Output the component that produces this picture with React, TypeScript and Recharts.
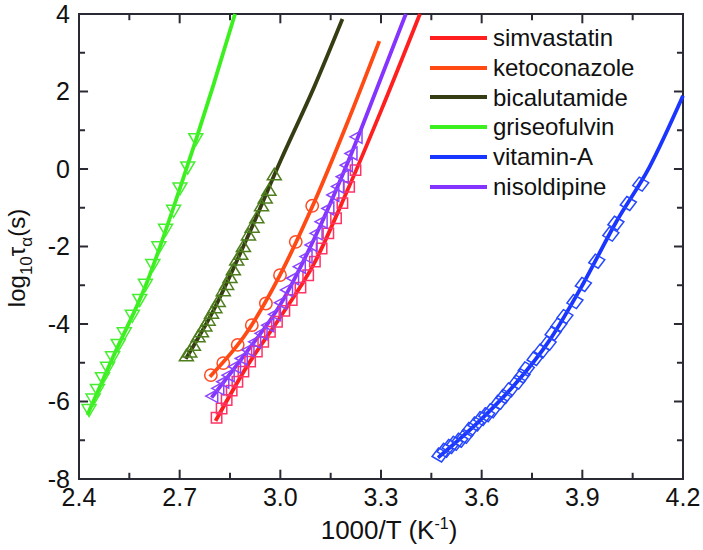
import React from 'react';
import { ComposedChart, Line, Scatter, XAxis, YAxis, Legend, Label, ReferenceArea, ReferenceLine } from 'recharts';

const FONT = '"Liberation Sans", Arial, Helvetica, sans-serif';
const INK = '#2a2a35';

// ---------- axes ----------
const xDomain: [number, number] = [2.4, 4.2];
const yDomain: [number, number] = [-8, 4];
const xTicks = [2.4, 2.55, 2.7, 2.85, 3.0, 3.15, 3.3, 3.45, 3.6, 3.75, 3.9, 4.05, 4.2];
const xTickLabels = ['2.4', '', '2.7', '', '3.0', '', '3.3', '', '3.6', '', '3.9', '', '4.2'];
const yTicks = [-8, -7, -6, -5, -4, -3, -2, -1, 0, 1, 2, 3, 4];
const yTickLabels = ['-8', '', '-6', '', '-4', '', '-2', '', '0', '', '2', '', '4'];
// inward tick lengths, in axis units (major, minor)
const xTickLen = [0.24, 0.16];
const yTickLen = [0.027, 0.018];

// ---------- series meta ----------
const seriesNames = ['simvastatin', 'ketoconazole', 'bicalutamide', 'griseofulvin', 'vitamin-A', 'nisoldipine'];
const lineColors = ['#FF1F1F', '#FF4A14', '#363D12', '#3CF020', '#1A35FF', '#8533FF'];
const markerColors = ['#FF3366', '#FF4A22', '#4E7D1E', '#46EE30', '#2546FF', '#8A44FF'];

// ---------- simvastatin (squares) ----------
const simvX = [2.810, 2.825, 2.840, 2.855, 2.872, 2.890, 2.910, 2.930, 2.949, 2.969, 2.990, 3.012, 3.034, 3.060, 3.083, 3.103, 3.123, 3.143, 3.166, 3.185, 3.205, 3.224];
const simvY = [-6.42, -6.18, -5.96, -5.72, -5.49, -5.23, -4.97, -4.71, -4.46, -4.20, -3.94, -3.66, -3.38, -3.06, -2.74, -2.39, -2.05, -1.66, -1.27, -0.88, -0.46, -0.03];
const simvFitX = [2.807, 2.9, 3.0, 3.1, 3.2, 3.3, 3.416];
const simvFitY = [-6.5, -5.1, -3.82, -2.45, -0.55, 1.5, 4.0];

// ---------- ketoconazole (circles) ----------
const ketoX = [2.793, 2.830, 2.873, 2.915, 2.957, 2.999, 3.046, 3.095];
const ketoY = [-5.32, -5.01, -4.54, -4.03, -3.47, -2.74, -1.88, -0.95];
const ketoFitX = [2.79, 2.9, 3.0, 3.1, 3.2, 3.295];
const ketoFitY = [-5.36, -4.22, -2.72, -0.88, 1.2, 3.3];

// ---------- bicalutamide (up triangles) ----------
const bicaX = [2.720, 2.730, 2.741, 2.755, 2.765, 2.775, 2.785, 2.795, 2.805, 2.815, 2.830, 2.840, 2.850, 2.860, 2.870, 2.882, 2.890, 2.905, 2.916, 2.930, 2.944, 2.955, 2.966, 2.982];
const bicaY = [-4.82, -4.72, -4.55, -4.33, -4.20, -4.05, -3.90, -3.72, -3.58, -3.42, -3.14, -2.98, -2.80, -2.60, -2.35, -2.20, -2.00, -1.70, -1.50, -1.26, -0.95, -0.75, -0.55, -0.15];
const bicaFitX = [2.718, 2.8, 2.9, 3.0, 3.1, 3.185];
const bicaFitY = [-4.9, -3.66, -1.8, 0.2, 2.1, 3.87];

// ---------- griseofulvin (down triangles) ----------
const grisX = [2.430, 2.442, 2.455, 2.470, 2.485, 2.500, 2.517, 2.535, 2.559, 2.581, 2.598, 2.620, 2.638, 2.658, 2.682, 2.701, 2.724, 2.748];
const grisY = [-6.22, -5.95, -5.70, -5.40, -5.13, -4.86, -4.54, -4.24, -3.79, -3.38, -2.99, -2.48, -2.02, -1.57, -1.08, -0.50, 0.04, 0.77];
const grisFitX = [2.425, 2.5, 2.6, 2.7, 2.8, 2.865];
const grisFitY = [-6.35, -4.88, -2.98, -0.52, 2.15, 4.0];

// ---------- vitamin-A (diamonds) ----------
const vitaX = [3.476, 3.491, 3.506, 3.520, 3.535, 3.550, 3.566, 3.583, 3.600, 3.615, 3.630, 3.652, 3.667, 3.684, 3.706, 3.720, 3.733, 3.759, 3.778, 3.798, 3.813, 3.830, 3.848, 3.878, 3.903, 3.943, 3.985, 4.000, 4.037, 4.074];
const vitaY = [-7.38, -7.26, -7.16, -7.08, -7.00, -6.90, -6.72, -6.58, -6.44, -6.34, -6.24, -6.02, -5.87, -5.70, -5.50, -5.34, -5.16, -4.89, -4.70, -4.50, -4.24, -4.03, -3.81, -3.42, -2.98, -2.38, -1.68, -1.40, -0.89, -0.39];
const vitaFitX = [3.47, 3.6, 3.7, 3.8, 3.9, 4.0, 4.1, 4.2];
const vitaFitY = [-7.45, -6.45, -5.55, -4.45, -3.0, -1.38, 0.05, 1.89];

// ---------- nisoldipine (left triangles) ----------
const nisoX = [2.797, 2.815, 2.830, 2.846, 2.865, 2.885, 2.905, 2.925, 2.944, 2.964, 2.984, 3.002, 3.020, 3.038, 3.058, 3.078, 3.093, 3.108, 3.123, 3.143, 3.158, 3.172, 3.186, 3.198, 3.212, 3.227];
const nisoY = [-5.86, -5.66, -5.49, -5.32, -5.10, -4.89, -4.67, -4.46, -4.24, -4.03, -3.75, -3.45, -3.12, -2.82, -2.52, -2.26, -1.96, -1.66, -1.36, -1.02, -0.67, -0.45, -0.20, 0.10, 0.40, 0.83];
const nisoFitX = [2.795, 2.9, 3.0, 3.1, 3.2, 3.3, 3.374];
const nisoFitY = [-5.9, -4.72, -3.5, -1.82, 0.15, 2.35, 4.0];

const zip = (xs: number[], ys: number[]) => xs.map((x, i) => ({ x, y: ys[i] }));

type Kind = 'square' | 'circle' | 'up' | 'down' | 'left' | 'diamond';

const series: { pts: { x: number; y: number }[]; fit: { x: number; y: number }[]; kind: Kind }[] = [
  { pts: zip(simvX, simvY), fit: zip(simvFitX, simvFitY), kind: 'square' },
  { pts: zip(ketoX, ketoY), fit: zip(ketoFitX, ketoFitY), kind: 'circle' },
  { pts: zip(bicaX, bicaY), fit: zip(bicaFitX, bicaFitY), kind: 'up' },
  { pts: zip(grisX, grisY), fit: zip(grisFitX, grisFitY), kind: 'down' },
  { pts: zip(vitaX, vitaY), fit: zip(vitaFitX, vitaFitY), kind: 'diamond' },
  { pts: zip(nisoX, nisoY), fit: zip(nisoFitX, nisoFitY), kind: 'left' },
];

const marker = (kind: Kind, color: string) => (p: any) => {
  const { cx, cy } = p;
  if (cx == null || cy == null) return <g />;
  const sw = 1.5;
  if (kind === 'circle') {
    return <circle cx={cx} cy={cy} r={6.2} fill="none" stroke={color} strokeWidth={sw} />;
  }
  let d = '';
  if (kind === 'square') d = `M${cx - 5.2},${cy - 5.2}h10.4v10.4h-10.4z`;
  else if (kind === 'up') d = `M${cx},${cy - 6.5}L${cx + 7},${cy + 5}L${cx - 7},${cy + 5}Z`;
  else if (kind === 'down') d = `M${cx - 7},${cy - 5.5}L${cx + 7},${cy - 5.5}L${cx},${cy + 6.5}Z`;
  else if (kind === 'left') d = `M${cx - 6.5},${cy}L${cx + 5.5},${cy - 6.5}L${cx + 5.5},${cy + 6.5}Z`;
  else d = `M${cx - 1.5},${cy - 7}L${cx + 8},${cy - 1.5}L${cx + 1.5},${cy + 7}L${cx - 8},${cy + 1.5}Z`;
  return <path d={d} fill="none" stroke={color} strokeWidth={sw} />;
};

// ---------- tick labels ----------
const XM = 9;
const YM = 9;

const tickBottom = (p: any) => {
  const { x, y, index } = p;
  const lab = xTickLabels[index];
  if (!lab) return <g />;
  return (
    <text x={x} y={y} dy="0.71em" textAnchor="middle" fontSize={25} fontFamily={FONT} fill="#111">
      {lab}
    </text>
  );
};

const tickLeft = (p: any) => {
  const { x, y, index } = p;
  const lab = yTickLabels[index];
  if (!lab) return <g />;
  return (
    <text x={x} y={y} dy="0.355em" textAnchor="end" fontSize={25} fontFamily={FONT} fill="#111">
      {lab}
    </text>
  );
};

const XTitle = () => (
  <text x={389} y={539} textAnchor="middle" fontSize={26} fontFamily={FONT} fill="#111">
    1000/T (K<tspan dy={-10} fontSize={16}>-1</tspan>
    <tspan dy={10}>)</tspan>
  </text>
);

const YTitle = () => (
  <text x={25} y={258} transform="rotate(-90, 25, 258)" textAnchor="middle" fontSize={24} fontFamily={FONT} fill="#111">
    log<tspan dy={7} fontSize={17}>10</tspan>
    <tspan dy={-7}>τ</tspan>
    <tspan dy={7} fontSize={17}>α</tspan>
    <tspan dy={-7}>(s)</tspan>
  </text>
);

const LegendBox = () => (
  <div style={{ fontFamily: FONT }}>
    {seriesNames.map((n, i) => (
      <div key={n} style={{ display: 'flex', alignItems: 'center', height: 29.8 }}>
        <svg width={57} height={6} style={{ display: 'block' }}>
          <path d="M0,3H57" stroke={lineColors[i]} strokeWidth={4} />
        </svg>
        <span style={{ marginLeft: 6, fontSize: 24, lineHeight: '29.8px', color: '#111', whiteSpace: 'nowrap' }}>{n}</span>
      </div>
    ))}
  </div>
);

export default function App() {
  const tickLines: React.ReactNode[] = [];
  xTicks.forEach((v, i) => {
    const len = xTickLen[i % 2];
    tickLines.push(
      <ReferenceLine key={'tb' + i} segment={[{ x: v, y: yDomain[0] }, { x: v, y: yDomain[0] + len }]} stroke={INK} strokeWidth={2} ifOverflow="visible" />,
      <ReferenceLine key={'tt' + i} segment={[{ x: v, y: yDomain[1] }, { x: v, y: yDomain[1] - len }]} stroke={INK} strokeWidth={2} ifOverflow="visible" />,
    );
  });
  yTicks.forEach((v, i) => {
    const len = yTickLen[i % 2];
    tickLines.push(
      <ReferenceLine key={'tl' + i} segment={[{ x: xDomain[0], y: v }, { x: xDomain[0] + len, y: v }]} stroke={INK} strokeWidth={2} ifOverflow="visible" />,
      <ReferenceLine key={'tr' + i} segment={[{ x: xDomain[1], y: v }, { x: xDomain[1] - len, y: v }]} stroke={INK} strokeWidth={2} ifOverflow="visible" />,
    );
  });

  return (
    <div style={{ position: 'absolute', left: 0, top: 0, width: 703, height: 550, background: '#fff' }}>
      <ComposedChart width={703} height={550} margin={{ top: 14, right: 20, bottom: 0, left: 0 }}>
        <XAxis
          dataKey="x"
          type="number"
          domain={xDomain}
          ticks={xTicks}
          interval={0}
          height={71}
          tickSize={0}
          tickMargin={XM}
          tickLine={false}
          axisLine={{ stroke: INK, strokeWidth: 2 }}
          tick={tickBottom}
        >
          <Label content={XTitle} />
        </XAxis>
        <YAxis
          dataKey="y"
          type="number"
          domain={yDomain}
          ticks={yTicks}
          interval={0}
          width={79}
          tickSize={0}
          tickMargin={YM}
          tickLine={false}
          axisLine={{ stroke: INK, strokeWidth: 2 }}
          tick={tickLeft}
        >
          <Label content={YTitle} />
        </YAxis>
        <ReferenceArea x1={xDomain[0]} x2={xDomain[1]} y1={yDomain[0]} y2={yDomain[1]} fill="none" stroke={INK} strokeWidth={2} ifOverflow="visible" />
        {tickLines}
        {series.map((s, i) => (
          <Scatter
            key={'s' + i}
            name={seriesNames[i] + ' data'}
            data={s.pts}
            dataKey="y"
            shape={marker(s.kind, markerColors[i])}
            isAnimationActive={false}
            legendType="none"
          />
        ))}
        {series.map((s, i) => (
          <Line
            key={'l' + i}
            name={seriesNames[i]}
            data={s.fit}
            dataKey="y"
            type="monotone"
            stroke={lineColors[i]}
            strokeWidth={3.8}
            dot={false}
            activeDot={false}
            isAnimationActive={false}
          />
        ))}
        <Legend layout="vertical" align="center" verticalAlign="middle" content={LegendBox} wrapperStyle={{ left: 430, top: 23, width: 260 }} />
      </ComposedChart>
    </div>
  );
}
